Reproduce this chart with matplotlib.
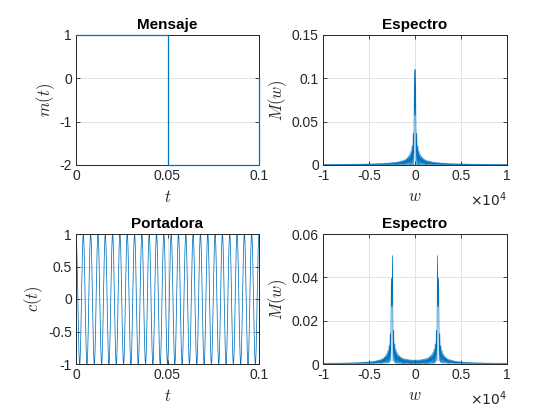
import numpy as np
import matplotlib
matplotlib.use("Agg")
import matplotlib.pyplot as plt

# ---- data ----
msg_times = [0.0, 0.05, 0.05, 0.1, 0.1]      # breakpoints of the message
msg_values = [1.0, 1.0, -2.0, -2.0, 0.0]     # message levels
sample_rate = 4000                           # Hz; w axis in rad/s
carrier_w = 2500                             # spectral peaks at +/- 0.25e4 rad/s
carrier_cycles_shown = 25                    # cycles visible in 0.1 s
msg_spec_peak = 0.11                         # peak height of message spectrum
mod_spec_peak = 0.05                         # peak height of modulated spectrum

titles = ["Mensaje", "Espectro", "Portadora", "Espectro"]
ylabels = [r"$m(t)$", r"$M(w)$", r"$c(t)$", r"$M(w)$"]
xlabels = [r"$t$", r"$w$", r"$t$", r"$w$"]
t_ticks = [0, 0.05, 0.1]
t_ticklabels = ["0", "0.05", "0.1"]
w_ticks = [-10000, -5000, 0, 5000, 10000]
w_ticklabels = ["-1", "-0.5", "0", "0.5", "1"]
yt_msg = [-2, -1, 0, 1]
yt_msg_lab = ["-2", "-1", "0", "1"]
yt_spec1 = [0, 0.05, 0.1, 0.15]
yt_spec1_lab = ["0", "0.05", "0.1", "0.15"]
yt_car = [-1, -0.5, 0, 0.5, 1]
yt_car_lab = ["-1", "-0.5", "0", "0.5", "1"]
yt_spec2 = [0, 0.02, 0.04, 0.06]
yt_spec2_lab = ["0", "0.02", "0.04", "0.06"]

# ---- derived signals ----
t = np.arange(0, 0.1 + 0.5 / sample_rate, 1.0 / sample_rate)
m = np.interp(t, [0, 0.05 - 1e-9, 0.05, 0.1 - 1e-9, 0.1], msg_values)
N = len(t)
w = 2 * np.pi * (np.arange(N) - N // 2) * sample_rate / N

def spectrum(sig, peak):
    s = np.abs(np.fft.fftshift(np.fft.fft(sig)))
    return s / s.max() * peak

M1 = spectrum(m, msg_spec_peak)
mod = m * np.cos(carrier_w * t)
M2 = spectrum(mod, mod_spec_peak)

tc = np.linspace(0, 0.1, 4001)
c = np.cos(2 * np.pi * carrier_cycles_shown / 0.1 * tc)

# ---- styling ----
plt.rcParams["font.family"] = ["Liberation Sans", "DejaVu Sans"]
plt.rcParams["mathtext.fontset"] = "cm"
blue = "#0072BD"
edge = "#262626"

fig = plt.figure(figsize=(5.6, 4.2), dpi=100)
W, H = 560.0, 420.0
boxes = [(76, 35, 183, 130), (323, 35, 184, 130), (76, 234, 183, 130), (323, 234, 184, 130)]
axes = []
for (x0, y0, bw, bh) in boxes:
    ax = fig.add_axes([x0 / W, 1 - (y0 + bh) / H, bw / W, bh / H])
    axes.append(ax)

axes[0].plot(msg_times, msg_values, color=blue, lw=0.9, clip_on=False, zorder=5)
axes[0].set_xlim(0, 0.1); axes[0].set_ylim(-2, 1)
axes[0].set_xticks(t_ticks, t_ticklabels); axes[0].set_yticks(yt_msg, yt_msg_lab)

axes[1].plot(w, M1, color=blue, lw=0.5)
axes[1].set_xlim(-10000, 10000); axes[1].set_ylim(0, 0.15)
axes[1].set_xticks(w_ticks, w_ticklabels); axes[1].set_yticks(yt_spec1, yt_spec1_lab)

axes[2].plot(tc, c, color=blue, lw=0.55)
axes[2].set_xlim(0, 0.1); axes[2].set_ylim(-1, 1)
axes[2].set_xticks(t_ticks, t_ticklabels); axes[2].set_yticks(yt_car, yt_car_lab)

axes[3].plot(w, M2, color=blue, lw=0.5)
axes[3].set_xlim(-10000, 10000); axes[3].set_ylim(0, 0.06)
axes[3].set_xticks(w_ticks, w_ticklabels); axes[3].set_yticks(yt_spec2, yt_spec2_lab)

for i, ax in enumerate(axes):
    ax.set_title(titles[i], fontsize=11, fontweight="bold", pad=4, color="black")
    ax.set_xlabel(xlabels[i], fontsize=12, labelpad=4, color=edge)
    ax.set_ylabel(ylabels[i], fontsize=12, labelpad=2, color=edge)
    ax.grid(True, color="#dedede", lw=0.6)
    ax.set_axisbelow(True)
    ax.tick_params(direction="in", length=3, width=0.6, labelsize=10, colors=edge,
                   top=True, right=True, pad=3)
    for sp in ax.spines.values():
        sp.set_color(edge); sp.set_linewidth(0.7)
    if i in (1, 3):
        ax.text(1.0, -0.27, r"$\times 10^4$", transform=ax.transAxes,
                ha="right", va="center", fontsize=10, color=edge,
                math_fontfamily="dejavusans")

fig.savefig("out.png", dpi=100, facecolor="white")
